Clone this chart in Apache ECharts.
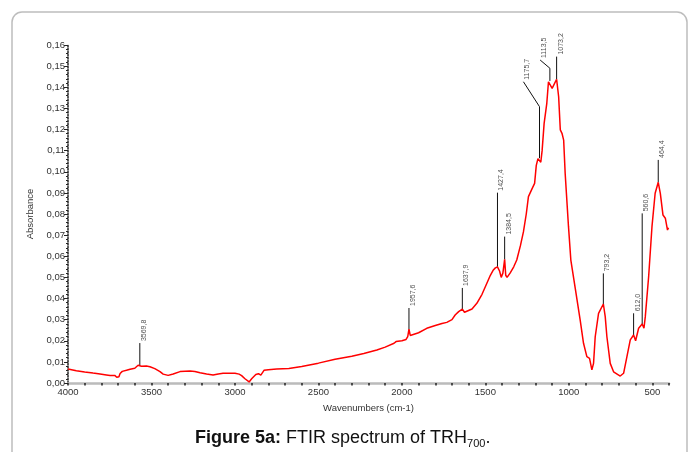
<!DOCTYPE html>
<html>
<head>
<meta charset="utf-8">
<script src="https://cdn.jsdelivr.net/npm/echarts@6/dist/echarts.min.js"></script>
<style>
  html, body { margin: 0; background: #fff; }
  #chart { width: 691px; height: 452px; }
</style>
</head>
<body>
<div id="chart"></div>
<script>
// spectrum (wavenumber cm-1 / absorbance)
const wavenumbers = [4000, 3950, 3900, 3850, 3808, 3770, 3748, 3720, 3708, 3695, 3688, 3675, 3650, 3628, 3600, 3580, 3560, 3530, 3509, 3480,
  3449, 3430, 3419, 3400, 3370, 3329, 3269, 3240, 3209, 3170, 3131, 3100, 3071, 3030, 3000, 2975, 2960, 2940, 2930, 2915,
  2900, 2893, 2875, 2859, 2845, 2835, 2826, 2800, 2750, 2677, 2600, 2500, 2400, 2300, 2228, 2150, 2100, 2047, 2035, 2025,
  2000, 1975, 1965, 1957.6, 1950, 1945, 1900, 1851, 1800, 1760, 1731, 1700, 1681, 1660, 1650, 1637.9, 1625, 1615, 1580, 1551,
  1520, 1491, 1470, 1452, 1440, 1427.4, 1415, 1405, 1395, 1384.5, 1378, 1370, 1352, 1330, 1312, 1290, 1272, 1255, 1242, 1220,
  1205, 1195, 1185, 1175.7, 1168, 1160, 1148, 1132, 1122, 1113.5, 1100, 1090, 1073.2, 1061, 1051, 1041, 1031, 1022, 1002, 988,
  962, 932, 912, 892, 876, 862, 852, 842, 822, 793.2, 782, 772, 752, 732, 692, 672, 652, 632, 612, 600,
  582, 560.6, 550, 542, 522, 502, 483, 464.4, 452, 436, 422, 409, 403]
const absorbance = [0.0066, 0.0058, 0.0052, 0.0047, 0.0043, 0.0038, 0.0035, 0.0036, 0.0027, 0.0030, 0.0045, 0.0055, 0.0060, 0.0065, 0.0070, 0.0084, 0.0079, 0.0080, 0.0077, 0.0068,
  0.0054, 0.0042, 0.0035, 0.0036, 0.0043, 0.0054, 0.0057, 0.0054, 0.0049, 0.0043, 0.0038, 0.0043, 0.0046, 0.0046, 0.0046, 0.0042, 0.0035, 0.0020, 0.0011, 0.0005,
  0.0020, 0.0028, 0.0040, 0.0044, 0.0037, 0.0045, 0.0060, 0.0063, 0.0066, 0.0069, 0.0078, 0.0094, 0.0112, 0.0127, 0.0140, 0.0156, 0.0170, 0.0188, 0.0196, 0.0195,
  0.0200, 0.0206, 0.0220, 0.0255, 0.0225, 0.0222, 0.0238, 0.0259, 0.0272, 0.0282, 0.0287, 0.0300, 0.0322, 0.0338, 0.0346, 0.0350, 0.0335, 0.0330, 0.0350, 0.0377,
  0.0420, 0.0472, 0.0510, 0.0535, 0.0545, 0.0550, 0.0530, 0.0500, 0.0520, 0.0585, 0.0510, 0.0500, 0.0520, 0.0550, 0.0582, 0.0650, 0.0715, 0.0800, 0.0882, 0.0920,
  0.0945, 0.1030, 0.1062, 0.1064, 0.1045, 0.1100, 0.1229, 0.1324, 0.1426, 0.1430, 0.1395, 0.1400, 0.1438, 0.1355, 0.1198, 0.1182, 0.1150, 0.0993, 0.0740, 0.0582,
  0.0450, 0.0298, 0.0188, 0.0125, 0.0117, 0.0062, 0.0093, 0.0219, 0.0330, 0.0374, 0.0314, 0.0219, 0.0093, 0.0053, 0.0033, 0.0046, 0.0125, 0.0204, 0.0227, 0.0200,
  0.0259, 0.0279, 0.0259, 0.0314, 0.0503, 0.0740, 0.0898, 0.0950, 0.0898, 0.0795, 0.0780, 0.0724, 0.0735]

// peak annotations: leader goes up from the curve, optionally bends to where the text sits
const peakLabels = ['3569,8', '1957,6', '1637,9', '1427,4', '1384,5', '1175,7', '1113,5', '1073,2', '793,2', '612,0', '560,6', '464,4']
const peakWn = [3569.8, 1957.6, 1637.9, 1427.4, 1384.5, 1175.7, 1113.5, 1073.2, 793.2, 612.0, 560.6, 464.4]
const peakBase = [0.0084, 0.0255, 0.0350, 0.0550, 0.0585, 0.1064, 0.1430, 0.1438, 0.0374, 0.0227, 0.0279, 0.0950]
const elbowTop = [0.0189, 0.0355, 0.0450, 0.0901, 0.0693, 0.1308, 0.1490, 0.1545, 0.0519, 0.0330, 0.0803, 0.1056]
const labelWn = [3569.8, 1957.6, 1637.9, 1427.4, 1384.5, 1272, 1172, 1073.2, 793.2, 612.0, 560.6, 464.4]
const labelTop = [0.0189, 0.0355, 0.0450, 0.0901, 0.0693, 0.1426, 0.1529, 0.1545, 0.0519, 0.0330, 0.0803, 0.1056]

const FONT = '"Liberation Sans", Arial, sans-serif'
const fmtY = v => v.toFixed(2).replace('.', ',')

const spectrum = wavenumbers.map((w, i) => [w, absorbance[i]])
const leaders = peakWn.map((w, i) => ({
  coords: [[w, peakBase[i]], [w, elbowTop[i]], [labelWn[i], labelTop[i]]]
}))
const labelPoints = peakWn.map((w, i) => ({ name: peakLabels[i], value: [labelWn[i], labelTop[i]] }))

// caption widths, so the subscript follows the text
const ctx = document.createElement('canvas').getContext('2d')
ctx.font = 'bold 18px ' + FONT
const wBold = ctx.measureText('Figure 5a:').width
ctx.font = '18px ' + FONT
const wNorm = ctx.measureText(' FTIR spectrum of TRH').width
ctx.font = '11px ' + FONT
const wSub = ctx.measureText('700').width
const capX = 195

const myChart = echarts.init(document.getElementById('chart'))

const option = {
  animation: false,
  textStyle: { fontFamily: FONT },
  grid: { left: 68, right: 22, top: 45, bottom: 69 },
  xAxis: {
    type: 'value',
    inverse: true,
    min: 400,
    max: 4000,
    interval: 100,
    name: 'Wavenumbers (cm-1)',
    nameLocation: 'middle',
    nameGap: 20,
    nameTextStyle: { fontSize: 9.5, color: '#333' },
    axisLine: { lineStyle: { color: '#bbb', width: 2.5 } },
    axisTick: { length: 2.5, lineStyle: { color: '#222', width: 1.5 } },
    axisLabel: {
      fontSize: 9.5,
      color: '#333',
      margin: 4,
      formatter: v => (v % 500 === 0 ? String(v) : '')
    },
    splitLine: { show: false }
  },
  yAxis: {
    type: 'value',
    min: 0,
    max: 0.16,
    interval: 0.01,
    name: 'Absorbance',
    nameLocation: 'middle',
    nameGap: 33,
    nameTextStyle: { fontSize: 9.5, color: '#333' },
    axisLine: { show: true, lineStyle: { color: '#222', width: 1.5, type: 'dotted' } },
    axisTick: { show: true, length: 4, lineStyle: { color: '#222' } },
    minorTick: { show: true, splitNumber: 5, length: 2, lineStyle: { color: '#222' } },
    axisLabel: { fontSize: 9.5, color: '#333', margin: 3, formatter: fmtY },
    splitLine: { show: false }
  },
  series: [
    {
      type: 'line',
      data: spectrum,
      showSymbol: false,
      lineStyle: { color: '#ff0000', width: 1.5 },
      z: 3
    },
    {
      type: 'lines',
      coordinateSystem: 'cartesian2d',
      polyline: true,
      silent: true,
      data: leaders,
      lineStyle: { color: '#111', width: 1, opacity: 1 },
      z: 2
    },
    {
      type: 'scatter',
      data: labelPoints,
      symbolSize: 0,
      silent: true,
      label: {
        show: true,
        formatter: '{b}',
        rotate: 90,
        position: [4, -2],
        align: 'left',
        verticalAlign: 'middle',
        fontSize: 7,
        color: '#222'
      },
      z: 4
    }
  ],
  graphic: [
    {
      type: 'rect',
      silent: true,
      z: -1,
      shape: { x: 12, y: 12, width: 675, height: 470, r: 10 },
      style: { fill: 'none', stroke: '#bdbdbd', lineWidth: 1.5 }
    },
    {
      type: 'text',
      x: capX,
      y: 438,
      style: { text: 'Figure 5a:', font: 'bold 18px ' + FONT, fill: '#111', verticalAlign: 'middle' }
    },
    {
      type: 'text',
      x: capX + wBold,
      y: 438,
      style: { text: ' FTIR spectrum of TRH', font: '18px ' + FONT, fill: '#111', verticalAlign: 'middle' }
    },
    {
      type: 'text',
      x: capX + wBold + wNorm,
      y: 444,
      style: { text: '700', font: '11px ' + FONT, fill: '#111', verticalAlign: 'middle' }
    },
    {
      type: 'text',
      x: capX + wBold + wNorm + wSub,
      y: 438,
      style: { text: '.', font: '18px ' + FONT, fill: '#111', verticalAlign: 'middle' }
    }
  ]
}

myChart.setOption(option)

window.addEventListener('resize', function () {
  myChart.resize()
})
</script>
</body>
</html>
